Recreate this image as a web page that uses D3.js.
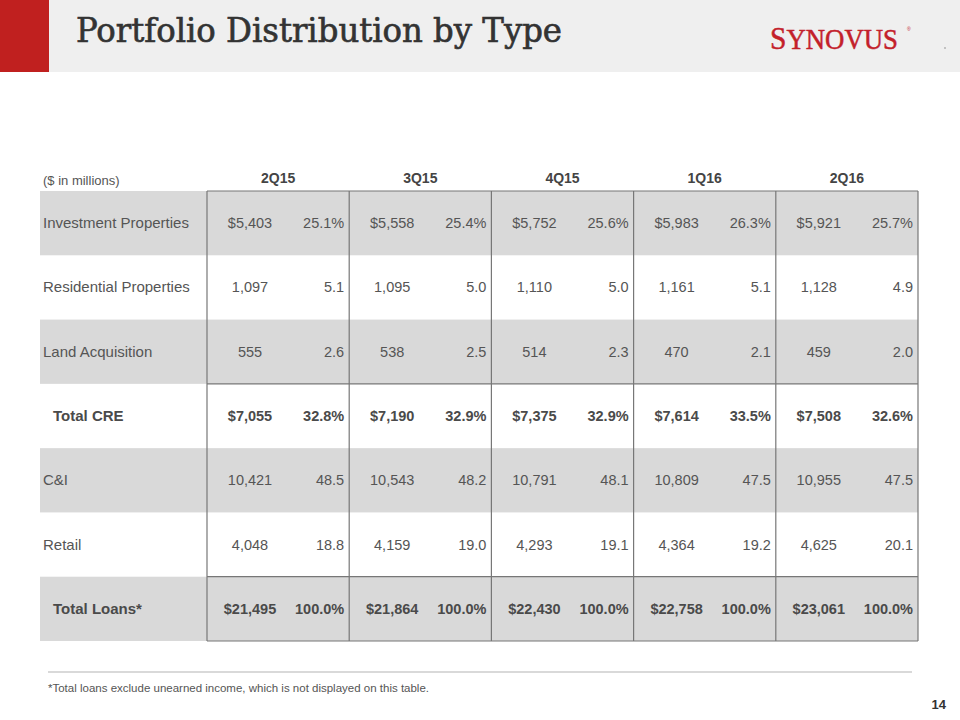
<!DOCTYPE html>
<html><head><meta charset="utf-8">
<script src="https://cdn.jsdelivr.net/npm/d3@7"></script>
<style>body{margin:0;background:#fff}svg{display:block}</style>
</head><body>
<svg id="c" width="960" height="720"></svg>
<script>
const title = "Portfolio Distribution by Type";
const unitLabel = "($ in millions)";
const quarters = ["2Q15", "3Q15", "4Q15", "1Q16", "2Q16"];
const rowLabels = ["Investment Properties", "Residential Properties", "Land Acquisition", "Total CRE", "C&I", "Retail", "Total Loans*"];
const totalRows = [false, false, false, true, false, false, true];
const shadedRows = [true, false, true, false, true, false, true];
const amounts = [
  [5403, 5558, 5752, 5983, 5921],
  [1097, 1095, 1110, 1161, 1128],
  [555, 538, 514, 470, 459],
  [7055, 7190, 7375, 7614, 7508],
  [10421, 10543, 10791, 10809, 10955],
  [4048, 4159, 4293, 4364, 4625],
  [21495, 21864, 22430, 22758, 23061]
];
const shares = [
  [25.1, 25.4, 25.6, 26.3, 25.7],
  [5.1, 5.0, 5.0, 5.1, 4.9],
  [2.6, 2.5, 2.3, 2.1, 2.0],
  [32.8, 32.9, 32.9, 33.5, 32.6],
  [48.5, 48.2, 48.1, 47.5, 47.5],
  [18.8, 19.0, 19.1, 19.2, 20.1],
  [100.0, 100.0, 100.0, 100.0, 100.0]
];
const dollarRows = [true, false, false, true, false, false, true];
const percentRows = [true, false, false, true, false, false, true];
const footnote = "*Total loans exclude unearned income, which is not displayed on this table.";
const pageNumber = "14";

const svg = d3.select("#c");
const FONT = "'Liberation Sans', Arial, Helvetica, sans-serif";

// header band
svg.append("rect").attr("x", 0).attr("y", 0).attr("width", 960).attr("height", 72).attr("fill", "#efefef");
svg.append("rect").attr("x", 0).attr("y", 0).attr("width", 49).attr("height", 72).attr("fill", "#c0201f");
svg.append("text").attr("x", 76).attr("y", 42)
  .attr("font-family", "'DejaVu Serif Condensed', 'DejaVu Serif', serif")
  .attr("font-size", 33).attr("fill", "#333").attr("stroke", "#333").attr("stroke-width", 0.6)
  .attr("textLength", 486).attr("lengthAdjust", "spacingAndGlyphs")
  .text(title);
// logo
const logo = svg.append("text").attr("x", 770).attr("y", 49)
  .attr("font-family", "'Liberation Serif', 'Times New Roman', serif")
  .attr("fill", "#c3202a").attr("stroke", "#c3202a").attr("stroke-width", 0.5)
  .attr("textLength", 128).attr("lengthAdjust", "spacingAndGlyphs");
logo.append("tspan").attr("font-size", 32).text("S");
logo.append("tspan").attr("font-size", 29).text("YNOVUS");
svg.append("text").attr("x", 907).attr("y", 31).attr("font-family", FONT).attr("font-size", 5).attr("fill", "#c3202a").text("®");
svg.append("circle").attr("cx", 945).attr("cy", 48).attr("r", 0.8).attr("fill", "#888");

// table scales
const colX = d3.scaleBand().domain(quarters).range([207, 918]);
const rowY = d3.scaleBand().domain(d3.range(rowLabels.length)).range([191, 641]);
const cw = colX.bandwidth(), rh = rowY.bandwidth();

svg.append("text").attr("x", 43).attr("y", 185).attr("font-family", FONT).attr("font-size", 13).attr("fill", "#555").text(unitLabel);
svg.selectAll(".qh").data(quarters).join("text")
  .attr("x", d => colX(d) + cw / 2).attr("y", 183).attr("text-anchor", "middle")
  .attr("font-family", FONT).attr("font-size", 14).attr("font-weight", "bold").attr("fill", "#444").text(d => d);

// shaded rows
svg.selectAll(".band").data(rowLabels.map((d, i) => i).filter(i => shadedRows[i])).join("rect")
  .attr("x", 40).attr("y", i => rowY(i)).attr("width", 918 - 40).attr("height", rh).attr("fill", "#d9d9d9");

// row labels
svg.selectAll(".rl").data(rowLabels).join("text")
  .attr("x", (d, i) => totalRows[i] ? 53 : 43).attr("y", (d, i) => rowY(i) + rh / 2 + 5)
  .attr("font-family", FONT).attr("font-size", 15).attr("font-weight", (d, i) => totalRows[i] ? "bold" : "normal")
  .attr("fill", (d, i) => totalRows[i] ? "#4a4a4a" : "#555").text(d => d);

const fmt = d3.format(",");
rowLabels.forEach((lab, i) => {
  quarters.forEach((q, j) => {
    const y = rowY(i) + rh / 2 + 5;
    const col = totalRows[i] ? "#4a4a4a" : "#555";
    svg.append("text").attr("x", colX(q) + 43).attr("y", y).attr("text-anchor", "middle")
      .attr("font-family", FONT).attr("font-size", 14.5).attr("font-weight", totalRows[i] ? "bold" : "normal")
      .attr("fill", col).text((dollarRows[i] ? "$" : "") + fmt(amounts[i][j]));
    svg.append("text").attr("x", colX(q) + cw - 5).attr("y", y).attr("text-anchor", "end")
      .attr("font-family", FONT).attr("font-size", 14.5).attr("font-weight", totalRows[i] ? "bold" : "normal")
      .attr("fill", col).text(d3.format(".1f")(shares[i][j]) + (percentRows[i] ? "%" : ""));
  });
});

// borders
const lineCol = "#777";
svg.selectAll(".vl").data(quarters.map(q => colX(q)).concat([918])).join("line")
  .attr("x1", d => d).attr("x2", d => d).attr("y1", 191).attr("y2", 641)
  .attr("stroke", lineCol).attr("stroke-width", 1.2);
[191, rowY(3), rowY(6), 641].forEach(y => {
  svg.append("line").attr("x1", 207).attr("x2", 918).attr("y1", y).attr("y2", y).attr("stroke", lineCol).attr("stroke-width", 1.2);
});

// footer
svg.append("line").attr("x1", 48).attr("x2", 912).attr("y1", 672).attr("y2", 672).attr("stroke", "#ccc").attr("stroke-width", 1.5);
svg.append("text").attr("x", 48).attr("y", 692).attr("font-family", FONT).attr("font-size", 11.5).attr("fill", "#555").text(footnote);
svg.append("text").attr("x", 946).attr("y", 709).attr("text-anchor", "end").attr("font-family", FONT).attr("font-size", 13).attr("font-weight", "bold").attr("fill", "#333").text(pageNumber);
</script>
</body></html>
